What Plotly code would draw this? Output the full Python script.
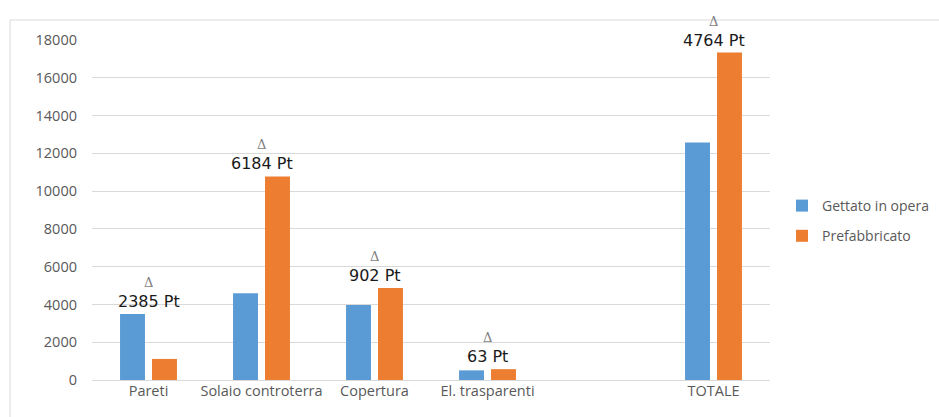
import plotly.graph_objects as go

categories = ["Pareti", "Solaio controterra", "Copertura", "El. trasparenti", " ", "TOTALE"]
gettato = [3500, 4590, 3970, 510, None, 12570]
prefabbricato = [1115, 10774, 4872, 573, None, 17334]
delta_labels = ["2385 Pt", "6184 Pt", "902 Pt", "63 Pt", None, "4764 Pt"]
y_ticks = list(range(0, 18001, 2000))
y_ticktext = [str(v) for v in y_ticks]

BLUE = "#5b9bd5"
ORANGE = "#ed7d31"
GREY = "#595959"
FONT = "Open Sans"

fig = go.Figure()
fig.add_trace(go.Bar(x=categories, y=gettato, name="Gettato in opera", legendgroup="g",
                     marker=dict(color=BLUE, line=dict(width=0))))
fig.add_trace(go.Bar(x=categories, y=prefabbricato, name="Prefabbricato", legendgroup="p",
                     marker=dict(color=ORANGE, line=dict(width=0))))

for c, g, p, lab in zip(categories, gettato, prefabbricato, delta_labels):
    if lab is None:
        continue
    top = max(g, p)
    fig.add_annotation(x=c, y=top, text=lab, showarrow=False, yanchor="bottom",
                       yshift=1, font=dict(family="DejaVu Sans", size=16, color="#1a1a1a"))
    fig.add_annotation(x=c, y=top, text="Δ", showarrow=False, yanchor="bottom",
                       yshift=22, font=dict(family="DejaVu Serif", size=13, color="#7f7f7f"))

W, H = 939, 417
L, R, T, B = 92, 169, 40, 37
pw, ph = W - L - R, H - T - B
fig.add_shape(type="rect", xref="paper", yref="paper",
              x0=(10 - L) / pw, x1=(945 - L) / pw,
              y0=(H - B - 425) / ph, y1=(H - B - 20) / ph,
              line=dict(color="#d9d9d9", width=1), fillcolor="rgba(0,0,0,0)", layer="below")

fig.update_layout(
    width=W, height=H,
    margin=dict(l=L, r=R, t=T, b=B, autoexpand=False),
    paper_bgcolor="white", plot_bgcolor="white",
    barmode="group", bargap=0.434, bargroupgap=0.22,
    font=dict(family=FONT, size=14, color=GREY),
    showlegend=True,
    legend=dict(xref="container", yref="container", x=782 / W, y=1 - 221 / H,
                xanchor="left", yanchor="middle",
                font=dict(family=FONT, size=14, color=GREY),
                itemwidth=30, tracegroupgap=9, traceorder="grouped",
                bgcolor="rgba(0,0,0,0)"),
    xaxis=dict(type="category", categoryorder="array", categoryarray=categories,
               showgrid=False, showline=False, ticks="", tickfont=dict(size=14.5, color=GREY),
               fixedrange=True),
    yaxis=dict(range=[0, 18000], tickvals=y_ticks, ticktext=y_ticktext, showgrid=True,
               gridcolor="#d9d9d9", gridwidth=1, zeroline=True, zerolinecolor="#d9d9d9",
               zerolinewidth=1, showline=False, ticks="", ticklabelstandoff=14,
               tickfont=dict(size=14.5, color=GREY)),
)

fig.write_html("out.html")
